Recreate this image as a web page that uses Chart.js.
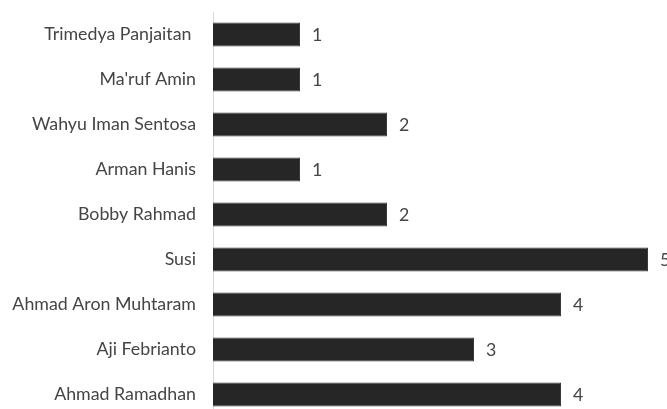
<!DOCTYPE html>
<html>
<head>
<meta charset="utf-8">
<script src="https://cdn.jsdelivr.net/npm/chart.js@4"></script>
<style>
  html, body { margin: 0; padding: 0; background: #fff; overflow: hidden; }
  #wrap { width: 667px; height: 417px; }
</style>
</head>
<body>
<div id="wrap"><canvas id="chart" width="667" height="417"></canvas></div>
<script>
// Datos del gráfico
const categories = [
  "Trimedya Panjaitan ",
  "Ma'ruf Amin",
  "Wahyu Iman Sentosa",
  "Arman Hanis",
  "Bobby Rahmad",
  "Susi",
  "Ahmad Aron Muhtaram",
  "Aji Febrianto",
  "Ahmad Ramadhan",
];
const values = [1, 1, 2, 1, 2, 5, 4, 3, 4];

// Etiquetas de valor a la derecha de cada barra
const valueLabels = {
  id: "valueLabels",
  afterDatasetsDraw(chart) {
    const ctx = chart.ctx;
    const meta = chart.getDatasetMeta(0);
    ctx.save();
    ctx.font = "17.8px Lato";
    ctx.fillStyle = "#454545";
    ctx.textAlign = "left";
    ctx.textBaseline = "middle";
    meta.data.forEach((bar, i) => {
      ctx.fillText(String(values[i]), bar.x + 12, bar.y + 1);
    });
    ctx.restore();
  },
};

const chart = new Chart(document.getElementById("chart"), {
  type: "bar",
  data: {
    labels: categories,
    datasets: [
      {
        data: values,
        backgroundColor: "#262626",
        borderColor: "#3a3a3a",
        borderWidth: 1,
        barPercentage: 0.53,
        categoryPercentage: 1,
      },
    ],
  },
  options: {
    indexAxis: "y",
    responsive: false,
    animation: false,
    layout: { padding: { top: 12, right: 19, bottom: 0, left: 0 } },
    plugins: {
      legend: { display: false },
      tooltip: { enabled: false },
    },
    scales: {
      x: {
        display: false,
        min: 0,
        max: 5,
      },
      y: {
        afterFit(scale) {
          scale.width = 213;
          scale.paddingTop = 0;
          scale.paddingBottom = 0;
        },
        grid: { display: false, drawTicks: false },
        border: { display: true, color: "#d9d9d9", width: 1 },
        ticks: {
          padding: 17,
          color: "#454545",
          font: { family: "Lato", size: 17.8 },
        },
      },
    },
  },
  plugins: [valueLabels],
});
</script>
</body>
</html>
